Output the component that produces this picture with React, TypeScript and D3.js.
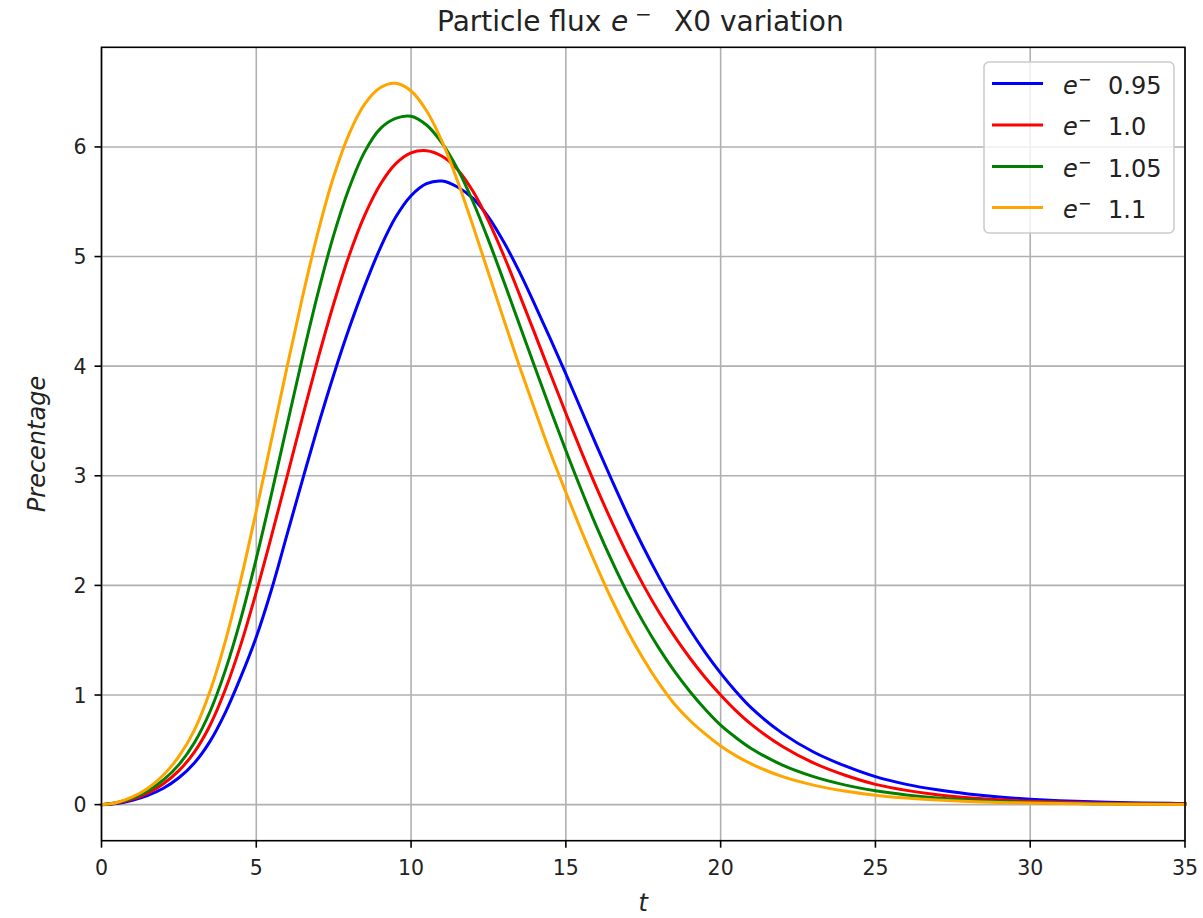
import React from "react";
import * as d3 from "d3";

const tValues = [0,0.5,1,1.5,2,2.5,3,3.5,4,4.5,5,5.5,6,6.5,7,7.5,8,8.5,9,9.5,10,10.5,11,11.5,12,12.5,13,13.5,14,14.5,15,15.5,16,16.5,17,17.5,18,18.5,19,19.5,20,20.5,21,22,23,24,25,26,27,28,29,30,32,35];

const blue095 = [0,0.01,0.04,0.085,0.15,0.245,0.38,0.575,0.84,1.165,1.53,1.97,2.47,2.97,3.46,3.92,4.345,4.73,5.075,5.358,5.555,5.665,5.689,5.635,5.53,5.36,5.13,4.86,4.56,4.25,3.93,3.6,3.27,2.95,2.64,2.35,2.08,1.83,1.6,1.39,1.2,1.03,0.88,0.65,0.48,0.355,0.255,0.185,0.135,0.098,0.07,0.05,0.026,0.009];
const red100 = [0,0.015,0.05,0.105,0.19,0.31,0.48,0.72,1.05,1.46,1.94,2.46,3.0,3.545,4.075,4.57,5.01,5.375,5.655,5.845,5.945,5.965,5.915,5.795,5.595,5.325,5.005,4.655,4.295,3.93,3.57,3.22,2.885,2.57,2.275,2.005,1.76,1.54,1.34,1.16,1.0,0.855,0.73,0.53,0.38,0.27,0.185,0.13,0.09,0.063,0.044,0.031,0.015,0.005];
const green105 = [0,0.02,0.06,0.125,0.225,0.365,0.565,0.845,1.225,1.695,2.245,2.845,3.47,4.09,4.675,5.195,5.625,5.955,6.165,6.26,6.28,6.2,6.035,5.8,5.5,5.15,4.77,4.38,3.99,3.605,3.23,2.87,2.53,2.215,1.925,1.665,1.43,1.22,1.035,0.87,0.725,0.61,0.51,0.36,0.255,0.18,0.126,0.088,0.061,0.042,0.029,0.02,0.009,0.003];
const orange110 = [0,0.02,0.07,0.15,0.27,0.44,0.68,1.03,1.49,2.05,2.68,3.34,4.0,4.64,5.23,5.73,6.12,6.39,6.54,6.58,6.51,6.33,6.05,5.69,5.28,4.85,4.42,4.0,3.6,3.21,2.85,2.5,2.17,1.86,1.58,1.33,1.11,0.92,0.77,0.645,0.535,0.445,0.37,0.255,0.178,0.124,0.086,0.06,0.042,0.029,0.02,0.014,0.006,0.002];

const seriesLabels = ["0.95", "1.0", "1.05", "1.1"];
const seriesColors = ["blue", "red", "green", "orange"];
const seriesValues = [blue095, red100, green105, orange110];

const xTicks = [0, 5, 10, 15, 20, 25, 30, 35];
const yTicks = [0, 1, 2, 3, 4, 5, 6];

const W = 1203, H = 918;
const L = 101.5, R = 1185, T = 47.3, B = 840.7;
const FONT = "DejaVu Sans, sans-serif";

export default function App() {
  const maxV = d3.max(seriesValues.flat()) as number;
  const pad = maxV * 0.05;
  const x = d3.scaleLinear().domain([0, 35]).range([L, R]);
  const y = d3.scaleLinear().domain([-pad, maxV + pad]).range([B, T]);
  const line = d3.line<number>()
    .x((_, i) => x(tValues[i]))
    .y((d) => y(d))
    .curve(d3.curveCatmullRom.alpha(0.5));

  const legendRows = [83.5, 125, 166.5, 207.5];

  return (
    <svg width={W} height={H} style={{ position: "absolute", left: 0, top: 0, background: "#fff" }} fontFamily={FONT}>
      <rect x={0} y={0} width={W} height={H} fill="#fff" />
      <g stroke="#b0b0b0" strokeWidth={1.6}>
        {xTicks.map((t) => (
          <line key={"gx" + t} x1={x(t)} x2={x(t)} y1={T} y2={B} />
        ))}
        {yTicks.map((t) => (
          <line key={"gy" + t} x1={L} x2={R} y1={y(t)} y2={y(t)} />
        ))}
      </g>
      <g fill="none" strokeWidth={3} strokeLinejoin="round" strokeLinecap="square">
        {seriesValues.map((vals, i) => (
          <path key={i} d={line(vals) || ""} stroke={seriesColors[i]} />
        ))}
      </g>
      <rect x={L} y={T} width={R - L} height={B - T} fill="none" stroke="#000" strokeWidth={1.6} />
      <g stroke="#000" strokeWidth={1.6}>
        {xTicks.map((t) => (
          <line key={"tx" + t} x1={x(t)} x2={x(t)} y1={B} y2={B + 7} />
        ))}
        {yTicks.map((t) => (
          <line key={"ty" + t} x1={L - 7} x2={L} y1={y(t)} y2={y(t)} />
        ))}
      </g>
      <g fontSize={20.5} fill="#222">
        {xTicks.map((t) => (
          <text key={"lx" + t} x={x(t)} y={B + 34} textAnchor="middle">{t}</text>
        ))}
        {yTicks.map((t) => (
          <text key={"ly" + t} x={L - 15} y={y(t) + 7.5} textAnchor="end">{t}</text>
        ))}
      </g>
      <text x={(L + R) / 2} y={911} fontSize={24} fontStyle="italic" textAnchor="middle" fill="#222">t</text>
      <text transform={`translate(45, ${(T + B) / 2}) rotate(-90)`} fontSize={24} fontStyle="italic" textAnchor="middle" fill="#222">Precentage</text>
      <text y={31} fontSize={28} fill="#222">
        <tspan x={437}>Particle flux</tspan>
        <tspan x={611} fontStyle="italic">e</tspan>
        <tspan x={635} dy={-10} fontSize={20}>−</tspan>
        <tspan x={674} dy={10}>X0 variation</tspan>
      </text>
      <rect x={984} y={62} width={190} height={171} rx={5} fill="#fff" fillOpacity={0.8} stroke="#cccccc" strokeWidth={1.6} />
      {seriesLabels.map((lab, i) => (
        <g key={"lg" + i}>
          <line x1={992} x2={1043} y1={legendRows[i]} y2={legendRows[i]} stroke={seriesColors[i]} strokeWidth={3} />
          <text y={legendRows[i] + 10} fontSize={24} fill="#222">
            <tspan x={1063} fontStyle="italic">e</tspan>
            <tspan x={1078} dy={-9} fontSize={16}>−</tspan>
            <tspan x={1108} dy={9}>{lab}</tspan>
          </text>
        </g>
      ))}
    </svg>
  );
}
